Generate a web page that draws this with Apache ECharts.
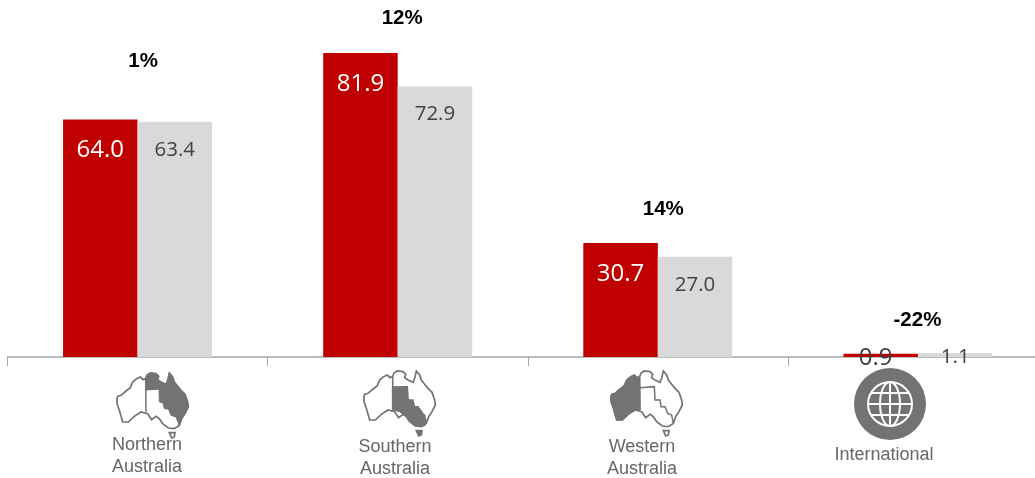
<!DOCTYPE html>
<html>
<head>
<meta charset="utf-8">
<style>html,body{margin:0;padding:0;background:#fff}#chart{width:1035px;height:478px}</style>
<script src="https://cdn.jsdelivr.net/npm/echarts@6/dist/echarts.min.js"></script>
</head>
<body>
<div id="chart"></div>
<script>
// Revenue by region, current year against prior year
const regions = ['Northern\nAustralia', 'Southern\nAustralia', 'Western\nAustralia', 'International'];
const currentYear = [64.0, 81.9, 30.7, 0.9];
const priorYear = [63.4, 72.9, 27.0, 1.1];
const growthLabels = ['1%', '12%', '14%', '-22%'];
const growthHeights = [80, 91.6, 40.1, 10.2];

const RED = '#c00000', LIGHT = '#d9d9d9', ICON = '#737373';

// Australia map shapes, authored on a 3x drawing grid
const mainland = [[18,95],[20,88],[30,85],[45,72],[58,62],[65,45],[77,35],[88,30],[96,38],[104,35],[108,24],[118,18],[135,20],[143,28],[140,38],[150,45],[165,52],[170,40],[175,18],[185,30],[190,45],[200,58],[210,70],[222,82],[230,105],[232,120],[222,140],[212,155],[205,175],[190,185],[172,183],[155,170],[145,155],[135,148],[122,158],[110,140],[90,135],[70,148],[52,165],[35,165],[25,130],[18,110]];
const tasmania = [[175,197],[192,197],[190,210],[182,213]];
const westernArea = [[18,95],[20,88],[30,85],[45,72],[58,62],[65,45],[77,35],[88,30],[96,38],[104,35],[105,135],[90,135],[70,148],[52,165],[35,165],[25,130],[18,110]];
const northernArea = [[104,35],[108,24],[118,18],[135,20],[143,28],[140,38],[150,45],[165,52],[170,40],[175,18],[185,30],[190,45],[200,58],[210,70],[222,82],[230,105],[232,120],[222,140],[212,155],[205,175],[195,150],[180,145],[172,125],[160,125],[155,105],[145,105],[144,65],[105,68]];
const southernArea = [[103,65],[148,65],[150,105],[165,108],[170,125],[185,130],[195,145],[203,170],[200,183],[172,183],[155,170],[145,155],[135,148],[125,140],[103,135]];
const borders = [
  [[104,35],[105,135]],
  [[105,68],[148,65],[150,105],[165,105],[168,125],[180,125],[188,145],[200,150],[205,175]]
];

const toPixels = pts => pts.map(p => [p[0] / 3, p[1] / 3]);

function poly(points, ox, oy, fill, width) {
  return {
    type: 'polygon', x: ox, y: oy, silent: true,
    shape: { points: toPixels(points) },
    style: { fill: fill, stroke: ICON, lineWidth: width }
  };
}

// One map icon: white continent, state borders, then the highlighted region
function mapIcon(ox, oy, area, tasFill) {
  const lines = borders.map(b => ({
    type: 'polyline', x: ox, y: oy, silent: true,
    shape: { points: toPixels(b) },
    style: { fill: null, stroke: ICON, lineWidth: 1.5 }
  }));
  return [poly(mainland, ox, oy, '#fff', 1.7)].concat(
    lines,
    [poly(area, ox, oy, ICON, 1), poly(tasmania, ox, oy, tasFill, 1.7)]
  );
}

// Globe icon: solid disc with a white wireframe
function globeIcon(cx, cy) {
  const white = { fill: null, stroke: '#fff', lineWidth: 2 };
  const items = [
    { type: 'circle', shape: { cx: cx, cy: cy, r: 36 }, style: { fill: ICON } },
    { type: 'circle', shape: { cx: cx, cy: cy, r: 22 }, style: white },
    { type: 'ellipse', shape: { cx: cx, cy: cy, rx: 10, ry: 22 }, style: white },
    { type: 'line', shape: { x1: cx, y1: cy - 22, x2: cx, y2: cy + 22 }, style: white },
    { type: 'line', shape: { x1: cx - 22, y1: cy, x2: cx + 22, y2: cy }, style: white },
    { type: 'line', shape: { x1: cx - 19, y1: cy - 11, x2: cx + 19, y2: cy - 11 }, style: white },
    { type: 'line', shape: { x1: cx - 19, y1: cy + 11, x2: cx + 19, y2: cy + 11 }, style: white }
  ];
  return items.map(i => Object.assign(i, { silent: true }));
}

// Region captions sit under the icons, slightly off the category centres
const captionAnchors = [[147, 434], [395, 436], [642, 436], [884, 444]];
const captions = regions.map((name, i) => ({
  type: 'text', x: captionAnchors[i][0], y: captionAnchors[i][1], silent: true,
  style: {
    text: name, fill: '#666666', fontFamily: 'Liberation Sans', fontSize: 18,
    align: 'center', lineHeight: 22
  }
}));

const chart = echarts.init(document.getElementById('chart'), null, { renderer: 'canvas' });

// Large bars carry their value inside the top; the tiny international bars centre it on the axis
function valueData(values, nudge) {
  return values.map(v => v < 5
    ? { value: v, label: { position: 'inside', color: '#404040', offset: nudge } }
    : v);
}

const valueLabel = (color, distance, size) => ({
  show: true, position: 'insideTop', distance: distance, color: color,
  fontFamily: 'Open Sans', fontSize: size,
  formatter: p => p.value.toFixed(1)
});

chart.setOption({
  animation: false,
  backgroundColor: '#fff',
  grid: { left: 7.5, top: 0, width: 1040.5, height: 357, outerBoundsMode: 'none' },
  xAxis: {
    type: 'category',
    data: regions,
    axisLine: { lineStyle: { color: '#a6a6a6', width: 1.5 } },
    axisTick: { show: true, length: 9, lineStyle: { color: '#a6a6a6', width: 1 } },
    axisLabel: { show: false }
  },
  yAxis: { type: 'value', min: 0, max: 96.2, show: false, splitLine: { show: false } },
  series: [
    {
      type: 'bar', data: valueData(currentYear, [-5, 3]), barWidth: 74.5, barGap: '0%',
      itemStyle: { color: RED }, z: 3,
      label: valueLabel('#fff', 19, 24)
    },
    {
      type: 'bar', data: valueData(priorYear, [0, 2]), barWidth: 74.5,
      itemStyle: { color: LIGHT }, z: 3,
      label: valueLabel('#404040', 17.5, 20.5)
    },
    {
      type: 'scatter', data: growthHeights.map((h, i) => ({
        value: h,
        label: { formatter: growthLabels[i], offset: [[5.5, 4.5, 5.5, -0.5][i], 1] }
      })),
      symbolSize: 1, itemStyle: { color: 'rgba(0,0,0,0)', opacity: 1 }, z: 5,
      label: {
        show: true, position: 'inside', color: '#000',
        fontFamily: 'Liberation Sans', fontWeight: 'bold', fontSize: 20.5
      }
    }
  ],
  graphic: [].concat(
    mapIcon(111, 367, northernArea, '#fff'),
    mapIcon(358, 365, southernArea, ICON),
    mapIcon(605, 365, westernArea, '#fff'),
    globeIcon(890, 404),
    captions
  )
});
</script>
</body>
</html>
